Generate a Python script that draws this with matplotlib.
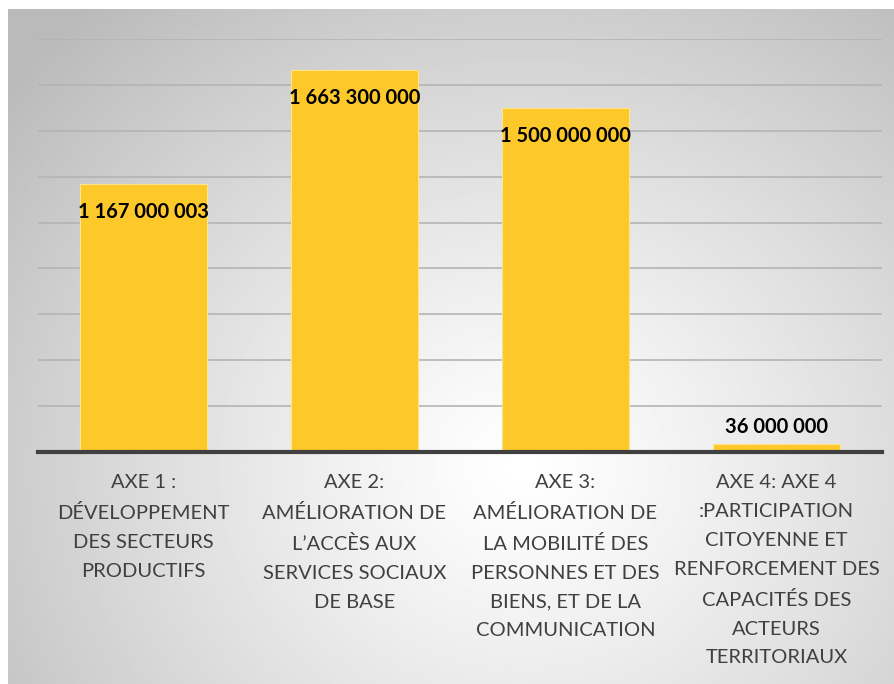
import numpy as np
import matplotlib.pyplot as plt

# Données
categories = [
    "AXE 1 :\nDÉVELOPPEMENT\nDES SECTEURS\nPRODUCTIFS",
    "AXE 2:\nAMÉLIORATION DE\nL\u2019ACCÈS AUX\nSERVICES SOCIAUX\nDE BASE",
    "AXE 3:\nAMÉLIORATION DE\nLA MOBILITÉ DES\nPERSONNES ET DES\nBIENS, ET DE LA\nCOMMUNICATION",
    "AXE 4: AXE 4\n:PARTICIPATION\nCITOYENNE ET\nRENFORCEMENT DES\nCAPACITÉS DES\nACTEURS\nTERRITORIAUX",
]
montants = [1167000003, 1663300000, 1500000000, 36000000]
etiquettes = ["1 167 000 003", "1 663 300 000", "1 500 000 000", "36 000 000"]

plt.rcParams['font.family'] = ['Lato', 'DejaVu Sans']

W, H = 895, 684
fig = plt.figure(figsize=(W / 100, H / 100), dpi=100)

# fond dégradé radial
bg = fig.add_axes([8 / W, 0, 1 - 8 / W, 1 - 9 / H])
yy, xx = np.mgrid[0:1:300j, 0:1:400j]
r = np.sqrt(((xx - 0.58) / 0.75) ** 2 + ((yy - 0.68) / 0.9) ** 2)
bg.imshow(1 - 0.27 * np.clip(r, 0, 1) ** 1.2, cmap='gray', vmin=0, vmax=1,
          aspect='auto', extent=[0, 1, 0, 1], origin='upper')
bg.axis('off')

ax = fig.add_axes([38 / W, 1 - 452 / H, (882 - 38) / W, (452 - 39) / H])
ax.patch.set_alpha(0)
x = np.arange(len(categories))
ax.bar(x, montants, width=0.6, color='#FDC82A', edgecolor='#FFE58A', linewidth=0.8, zorder=2)
ax.set_xlim(-0.5, 3.5)
ax.set_ylim(0, 1.8e9)
ax.set_yticks(np.arange(0, 1.81e9, 2e8))
ax.yaxis.grid(True, color='#b4b4b4', linewidth=1.2, zorder=0)
ax.tick_params(axis='y', left=False, labelleft=False)
ax.tick_params(axis='x', length=0, pad=16)
ax.set_xticks(x)
ax.set_xticklabels(categories, fontsize=14.5, color='#404040', linespacing=1.85, va='top')
for s in ['top', 'right', 'left']:
    ax.spines[s].set_visible(False)
ax.spines['bottom'].set_color('#404040')
ax.spines['bottom'].set_linewidth(3)
ax.spines['bottom'].set_zorder(3)

for i, (v, t) in enumerate(zip(montants, etiquettes)):
    if v > 2e8:
        ax.annotate(t, (i, v), xytext=(0, -28), textcoords='offset pixels',
                    ha='center', va='center', fontsize=14.5, fontweight='bold', color='black', zorder=4)
    else:
        ax.annotate(t, (i, v), xytext=(0, 17), textcoords='offset pixels',
                    ha='center', va='center', fontsize=14.5, fontweight='bold', color='black', zorder=4)

fig.savefig('out.png', dpi=100)
